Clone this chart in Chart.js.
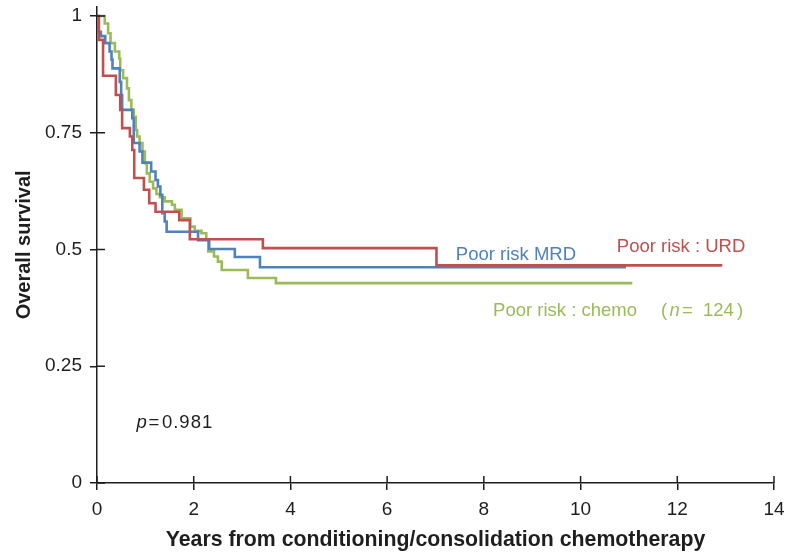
<!DOCTYPE html>
<html>
<head>
<meta charset="utf-8">
<script src="https://cdn.jsdelivr.net/npm/chart.js@4.4.1/dist/chart.umd.min.js"></script>
<style>
  html, body { margin: 0; padding: 0; background: #fff; }
</style>
</head>
<body>
<canvas id="survival" width="793" height="553"></canvas>
<script>
const xTicks = [0, 2, 4, 6, 8, 10, 12, 14];
const yTicks = [0, 0.25, 0.5, 0.75, 1];

// Poor risk : URD
const urdYears = [0, 0.04, 0.125, 0.39, 0.48, 0.52, 0.68, 0.73, 0.77, 0.97, 1.08, 1.21, 1.70, 1.92, 3.43, 7.02, 12.93];
const urdSurv = [1, 0.949, 0.872, 0.831, 0.799, 0.760, 0.742, 0.713, 0.653, 0.628, 0.599, 0.581, 0.563, 0.522, 0.503, 0.466, 0.466];

// Poor risk MRD
const mrdYears = [0, 0.01, 0.08, 0.17, 0.26, 0.30, 0.32, 0.47, 0.50, 0.52, 0.73, 0.76, 0.88, 0.94, 1.12, 1.21, 1.26, 1.31, 1.35, 1.40, 1.44, 2.09, 2.32, 2.85, 3.37, 10.94];
const mrdSurv = [1, 0.966, 0.957, 0.942, 0.924, 0.907, 0.888, 0.859, 0.831, 0.799, 0.781, 0.728, 0.710, 0.686, 0.667, 0.649, 0.635, 0.617, 0.578, 0.560, 0.538, 0.520, 0.501, 0.484, 0.462, 0.462];

// Poor risk : chemo (n = 124)
const chemoYears = [0, 0.11, 0.16, 0.23, 0.28, 0.37, 0.46, 0.48, 0.54, 0.62, 0.66, 0.71, 0.76, 0.80, 0.83, 0.88, 0.94, 0.99, 1.03, 1.09, 1.16, 1.23, 1.30, 1.40, 1.55, 1.61, 1.75, 1.93, 2.02, 2.16, 2.26, 2.30, 2.42, 2.50, 2.58, 3.12, 3.70, 11.07];
const chemoSurv = [1, 1, 0.984, 0.963, 0.942, 0.924, 0.909, 0.884, 0.867, 0.845, 0.820, 0.799, 0.784, 0.756, 0.742, 0.728, 0.710, 0.685, 0.663, 0.645, 0.631, 0.619, 0.612, 0.603, 0.596, 0.585, 0.567, 0.549, 0.540, 0.535, 0.521, 0.496, 0.485, 0.474, 0.456, 0.439, 0.428, 0.428];

const FONT = '"Liberation Sans", Arial, Helvetica, sans-serif';
const RED = '#c0504d';
const BLUE = '#4f81bd';
const GREEN = '#9bbb59';
const INK = '#1e1e1e';

const toPoints = (xs, ys) => xs.map((x, i) => ({ x: x, y: ys[i] }));

// tick marks cross the axes, chart.js only draws the outer half
const innerTicks = {
    id: 'innerTicks',
    afterDraw(chart) {
        const { ctx, chartArea, scales } = chart;
        ctx.save();
        ctx.strokeStyle = INK;
        ctx.lineWidth = 1.5;
        ctx.beginPath();
        xTicks.forEach(v => {
            const px = scales.x.getPixelForValue(v);
            ctx.moveTo(px, chartArea.bottom);
            ctx.lineTo(px, chartArea.bottom - 7);
        });
        yTicks.forEach(v => {
            const py = scales.y.getPixelForValue(v);
            ctx.moveTo(chartArea.left, py);
            ctx.lineTo(chartArea.left + 8, py);
        });
        ctx.stroke();
        ctx.restore();
    }
};

// curve labels and p value
const notes = {
    id: 'notes',
    afterDatasetsDraw(chart) {
        const { ctx, scales } = chart;
        const put = (parts, vx, vy, color) => {
            const x0 = scales.x.getPixelForValue(vx);
            const y0 = scales.y.getPixelForValue(vy);
            ctx.fillStyle = color;
            parts.forEach(p => {
                ctx.font = (p.italic ? 'italic ' : '') + '18.5px ' + FONT;
                ctx.letterSpacing = p.spacing || '0px';
                ctx.fillText(p.text, x0 + p.dx, y0);
            });
        };
        ctx.save();
        ctx.textAlign = 'left';
        ctx.textBaseline = 'alphabetic';
        put([{ text: 'Poor risk MRD', dx: 0 }], 7.42, 0.478, BLUE);
        put([{ text: 'Poor risk : URD', dx: 0 }], 10.75, 0.494, RED);
        put([
            { text: 'Poor risk : chemo', dx: 0 },
            { text: '(', dx: 168 },
            { text: 'n', dx: 176.5, italic: true },
            { text: '=', dx: 189 },
            { text: '124', dx: 210 },
            { text: ')', dx: 244 }
        ], 8.19, 0.357, GREEN);
        put([
            { text: 'p', dx: 0, italic: true },
            { text: '=', dx: 12 },
            { text: '0.981', dx: 25.5, spacing: '1px' }
        ], 0.815, 0.118, INK);
        ctx.restore();
    }
};

const canvas = document.getElementById('survival');

if (canvas) {
    new Chart(canvas, {
        type: 'line',
        data: {
            datasets: [
                { label: 'Poor risk : URD', data: toPoints(urdYears, urdSurv), borderColor: RED },
                { label: 'Poor risk MRD', data: toPoints(mrdYears, mrdSurv), borderColor: BLUE },
                { label: 'Poor risk : chemo', data: toPoints(chemoYears, chemoSurv), borderColor: GREEN }
            ]
        },
        options: {
            responsive: false,
            animation: false,
            events: [],
            layout: { padding: { top: 6.7, right: 19, left: 0, bottom: 0 } },
            elements: {
                line: { stepped: 'before', borderWidth: 2.6, fill: false, tension: 0 },
                point: { radius: 0 }
            },
            scales: {
                x: {
                    type: 'linear',
                    min: 0,
                    max: 14,
                    afterBuildTicks: scale => { scale.ticks = xTicks.map(v => ({ value: v })); },
                    afterFit: scale => { scale.height = 70; },
                    grid: { drawOnChartArea: false, drawTicks: true, tickLength: 7, color: INK, lineWidth: 1.5 },
                    border: { color: INK, width: 1.5 },
                    ticks: { color: INK, padding: 8, maxRotation: 0, font: { family: FONT, size: 19 } },
                    title: {
                        display: true,
                        text: 'Years from conditioning/consolidation chemotherapy',
                        color: INK,
                        padding: { top: 0, bottom: 0 },
                        font: { family: FONT, size: 21.3, weight: 'bold' }
                    }
                },
                y: {
                    type: 'linear',
                    min: 0,
                    max: 1.02,
                    afterBuildTicks: scale => { scale.ticks = yTicks.map(v => ({ value: v })); },
                    afterFit: scale => {
                        scale.width = 97;
                        scale.paddingTop = 0;
                        scale.paddingBottom = 0;
                    },
                    grid: { drawOnChartArea: false, drawTicks: true, tickLength: 7, color: INK, lineWidth: 1.5 },
                    border: { color: INK, width: 1.5 },
                    ticks: {
                        color: INK,
                        padding: 8,
                        font: { family: FONT, size: 19 },
                        callback: v => String(v)
                    },
                    title: {
                        display: true,
                        text: 'Overall survival',
                        color: INK,
                        padding: { top: 12, bottom: 0 },
                        font: { family: FONT, size: 20, weight: 'bold' }
                    }
                }
            },
            plugins: {
                legend: { display: false },
                tooltip: { enabled: false }
            }
        },
        plugins: [innerTicks, notes]
    });
}
</script>
</body>
</html>
